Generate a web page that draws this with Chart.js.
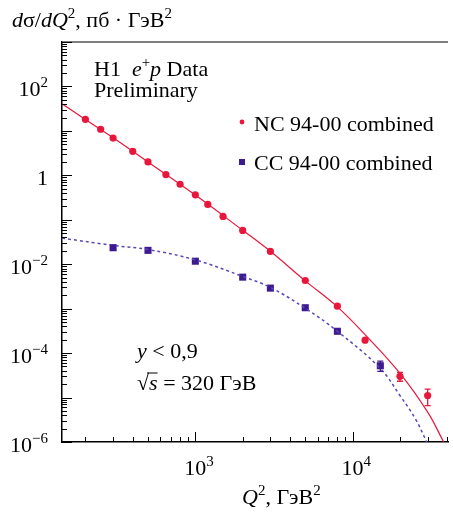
<!DOCTYPE html>
<html>
<head>
<meta charset="utf-8">
<script src="https://cdn.jsdelivr.net/npm/chart.js@4.4.1/dist/chart.umd.min.js"></script>
<style>
body { margin: 0; background: #fff; }
#wrap { width: 453px; height: 512px; }
</style>
</head>
<body>
<div id="wrap"><canvas id="xsec"></canvas></div>
<script>
// H1 e+p NC / CC cross sections dsigma/dQ2

// NC 94-00 combined
var ncQ2 = [200, 250, 300, 400, 500, 650, 800, 1000, 1200, 1500, 2000, 3000, 5000, 8000, 12000, 20000, 30000];
var ncXsec = [18.2, 10.9, 6.9, 3.47, 2.0, 1.04, 0.63, 0.365, 0.222, 0.119, 0.0577, 0.0194, 0.0043, 0.00114, 1.95e-4, 3.0e-5, 1.11e-5];
var ncErrLo = [null, null, null, null, null, null, null, null, null, null, null, null, null, null, null, 2.33e-5, 6.6e-6];
var ncErrHi = [null, null, null, null, null, null, null, null, null, null, null, null, null, null, null, 3.7e-5, 1.54e-5];

// CC 94-00 combined
var ccQ2 = [300, 500, 1000, 2000, 3000, 5000, 8000, 15000];
var ccXsec = [0.0235, 0.0205, 0.0117, 0.00512, 0.0029, 0.00105, 3.1e-4, 5.2e-5];
var ccErrLo = [0.0205, null, null, null, null, null, null, 3.9e-5];
var ccErrHi = [0.027, null, null, null, null, null, null, 6.6e-5];

// SM expectation curves
var ncFitQ2 = [142, 200, 300, 500, 1000, 2000, 3000, 5000, 8000, 12000, 20000, 30000, 37900];
var ncFit = [41, 18, 7.0, 2.0, 0.36, 0.058, 0.0195, 0.00422, 0.0011, 2.6e-4, 3.5e-5, 4.7e-6, 1e-6];
var ccFitQ2 = [142, 300, 500, 1000, 2000, 3000, 5000, 8000, 15000, 20000, 25000, 29600];
var ccFit = [0.0387, 0.0265, 0.0214, 0.0125, 0.0053, 0.003, 0.00102, 3.1e-4, 4.5e-5, 1.11e-5, 3.37e-6, 1e-6];

// axis labels
var yLabelExp = [-6, -4, -2, 0, 2];
var xLabelExp = [3, 4];

var RED = '#e8173c';
var PURPLE = '#3d1a8f';
var DASH = '#5a48b8';
var SERIF = '"Liberation Serif", "Times New Roman", serif';

function pts(xs, ys) {
    var out = [];
    for (var i = 0; i < xs.length; i++) out.push({x: xs[i], y: ys[i]});
    return out;
}

function fontFor(p) {
    return (p.i ? 'italic ' : '') + (p.sup ? 15 : 22) + 'px ' + SERIF;
}

function richWidth(ctx, parts) {
    var w = 0;
    parts.forEach(function (p) { ctx.font = fontFor(p); w += ctx.measureText(p.t).width; });
    return w;
}

function drawRich(ctx, parts, x, y, align) {
    var w = richWidth(ctx, parts);
    if (align === 'right') x -= w;
    else if (align === 'center') x -= w / 2;
    ctx.textAlign = 'left';
    ctx.textBaseline = 'alphabetic';
    parts.forEach(function (p) {
        ctx.font = fontFor(p);
        ctx.fillText(p.t, x, y - (p.sup ? 9 : 0));
        var tw = ctx.measureText(p.t).width;
        if (p.bar) {
            ctx.beginPath();
            ctx.lineWidth = 1;
            ctx.moveTo(x - 2, y - 17);
            ctx.lineTo(x + tw, y - 17);
            ctx.stroke();
        }
        x += tw;
    });
}

function expLabel(e) {
    if (e === 0) return [{t: '1'}];
    return [{t: '10'}, {t: (e < 0 ? '\u2212' + (-e) : '' + e), sup: true}];
}

var decorations = {
    id: 'decorations',
    afterDatasetsDraw: function (chart) {
        var ctx = chart.ctx;
        var xs = chart.scales.x, ys = chart.scales.y;
        ctx.save();

        // error bars
        function bars(q, lo, hi, color) {
            ctx.strokeStyle = color;
            ctx.lineWidth = 1.3;
            for (var i = 0; i < q.length; i++) {
                if (lo[i] == null) continue;
                var px = xs.getPixelForValue(q[i]);
                var y1 = ys.getPixelForValue(lo[i]), y2 = ys.getPixelForValue(hi[i]);
                ctx.beginPath();
                ctx.moveTo(px, y1); ctx.lineTo(px, y2);
                ctx.moveTo(px - 3, y1); ctx.lineTo(px + 3, y1);
                ctx.moveTo(px - 3, y2); ctx.lineTo(px + 3, y2);
                ctx.stroke();
            }
        }
        bars(ncQ2, ncErrLo, ncErrHi, RED);
        bars(ccQ2, ccErrLo, ccErrHi, PURPLE);
        ctx.restore();
    },
    afterDraw: function (chart) {
        var ctx = chart.ctx;
        var xs = chart.scales.x, ys = chart.scales.y;
        var area = chart.chartArea;
        ctx.save();

        // frame top
        ctx.strokeStyle = '#555';
        ctx.lineWidth = 1.5;
        ctx.beginPath();
        ctx.moveTo(area.left, area.top);
        ctx.lineTo(area.right, area.top);
        ctx.stroke();

        // inward ticks
        ctx.strokeStyle = '#000';
        ctx.lineWidth = 1;
        ctx.beginPath();
        for (var d = -6; d <= 3; d++) {
            for (var k = 1; k <= 9; k++) {
                var v = k * Math.pow(10, d);
                if (v > ys.max * 1.0001) break;
                var py = Math.round(ys.getPixelForValue(v)) + 0.5;
                var len = k === 1 ? 10 : 5;
                ctx.moveTo(area.left, py);
                ctx.lineTo(area.left + len, py);
            }
        }
        for (var d2 = 2; d2 <= 4; d2++) {
            for (var k2 = 1; k2 <= 9; k2++) {
                var vx = k2 * Math.pow(10, d2);
                if (vx < xs.min || vx > xs.max) continue;
                var px = Math.round(xs.getPixelForValue(vx)) + 0.5;
                var lx = k2 === 1 ? 10 : 5;
                ctx.moveTo(px, area.bottom);
                ctx.lineTo(px, area.bottom - lx);
            }
        }
        ctx.stroke();

        ctx.fillStyle = '#000';
        ctx.strokeStyle = '#000';

        // tick labels
        yLabelExp.forEach(function (e) {
            var py = ys.getPixelForValue(Math.pow(10, e));
            drawRich(ctx, expLabel(e), 48, py + 10, 'right');
        });
        xLabelExp.forEach(function (e) {
            var px = xs.getPixelForValue(Math.pow(10, e));
            ctx.font = fontFor({});
            var w10 = ctx.measureText('10').width;
            drawRich(ctx, expLabel(e), px - w10 / 2, 475, 'left');
        });

        // axis titles
        drawRich(ctx, [
            {t: 'd', i: true}, {t: '\u03c3'}, {t: '/'}, {t: 'dQ', i: true}, {t: '2', sup: true},
            {t: ', \u043f\u0431 \u00b7 \u0413\u044d\u0412'}, {t: '2', sup: true}
        ], 12, 27);
        drawRich(ctx, [
            {t: 'Q', i: true}, {t: '2', sup: true}, {t: ', \u0413\u044d\u0412'}, {t: '2', sup: true}
        ], 242, 504);

        // experiment label
        drawRich(ctx, [{t: 'H1  '}, {t: 'e', i: true}, {t: '+', sup: true}, {t: 'p', i: true}, {t: ' Data'}], 94, 76);
        drawRich(ctx, [{t: 'Preliminary'}], 94, 97);

        // legend
        ctx.fillStyle = RED;
        ctx.beginPath();
        ctx.arc(242, 122, 2.4, 0, Math.PI * 2);
        ctx.fill();
        ctx.fillStyle = PURPLE;
        ctx.fillRect(239, 159, 6, 6);
        ctx.fillStyle = '#000';
        drawRich(ctx, [{t: 'NC 94-00 combined'}], 254, 131);
        drawRich(ctx, [{t: 'CC 94-00 combined'}], 254, 170);

        // kinematic cuts
        drawRich(ctx, [{t: 'y', i: true}, {t: ' < 0,9'}], 137, 358);
        drawRich(ctx, [{t: '\u221a'}, {t: 's', i: true, bar: true}, {t: ' = 320 \u0413\u044d\u0412'}], 137, 390);

        ctx.restore();
    }
};

var ctx = document.getElementById('xsec');
var chart = new Chart(ctx, {
    type: 'scatter',
    data: {
        datasets: [
            {
                label: 'NC fit',
                data: pts(ncFitQ2, ncFit),
                showLine: true,
                borderColor: RED,
                borderWidth: 1.2,
                pointRadius: 0,
                tension: 0.4
            },
            {
                label: 'CC fit',
                data: pts(ccFitQ2, ccFit),
                showLine: true,
                borderColor: DASH,
                borderWidth: 1.5,
                borderDash: [3, 3],
                pointRadius: 0,
                tension: 0.4
            },
            {
                label: 'NC 94-00 combined',
                data: pts(ncQ2, ncXsec),
                pointStyle: 'circle',
                pointRadius: 3.6,
                backgroundColor: RED,
                borderColor: RED,
                borderWidth: 0
            },
            {
                label: 'CC 94-00 combined',
                data: pts(ccQ2, ccXsec),
                pointStyle: 'rect',
                pointRadius: 5,
                backgroundColor: PURPLE,
                borderColor: PURPLE,
                borderWidth: 0
            }
        ]
    },
    options: {
        responsive: true,
        maintainAspectRatio: false,
        animation: false,
        layout: { padding: { left: 62, top: 42, right: 0, bottom: 70 } },
        plugins: { legend: { display: false }, tooltip: { enabled: false } },
        scales: {
            x: {
                type: 'logarithmic',
                min: 142,
                max: 40400,
                ticks: { display: false },
                grid: { display: false, drawTicks: false },
                border: { display: true, color: '#000', width: 1.5 }
            },
            y: {
                type: 'logarithmic',
                min: 1e-6,
                max: 1e3,
                ticks: { display: false },
                grid: { display: false, drawTicks: false },
                border: { display: true, color: '#000', width: 1.5 }
            }
        }
    },
    plugins: [decorations]
});
</script>
</body>
</html>
